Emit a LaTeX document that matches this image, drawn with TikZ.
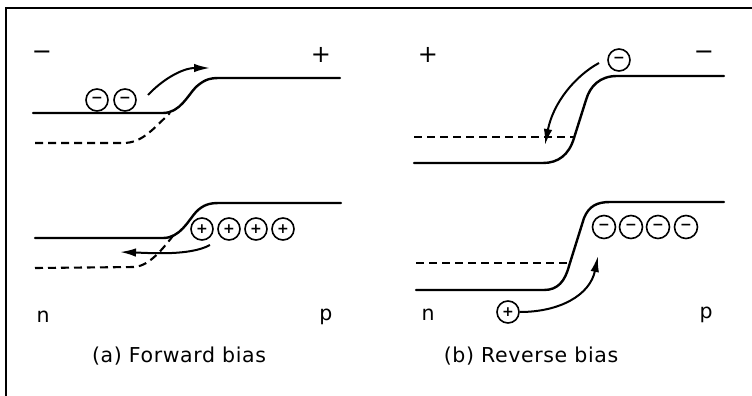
\documentclass[tikz,border=0pt]{standalone}
\usepackage{fontspec}
\setmainfont{DejaVu Sans}
\usetikzlibrary{arrows.meta}
\tikzset{
  band/.style={line width=2.4pt, line cap=round},
  dashband/.style={line width=2.1pt, dash pattern=on 8pt off 5pt},
  carrier/.style={circle, draw, line width=1.6pt, minimum size=22pt, inner sep=0pt, font=\fontsize{14}{14}\selectfont\bfseries},
  flow/.style={line width=2pt, -{Latex[length=16pt,width=8.5pt]}},
  lbl/.style={font=\fontsize{20.5}{20.5}\selectfont\addfontfeatures{LetterSpace=3}, inner sep=0pt},
  sgn/.style={font=\fontsize{24}{24}\selectfont, inner sep=0pt},
  frame/.style={line width=1.6pt}
}
\begin{document}
\begin{tikzpicture}[x=1pt,y=-1pt]
\useasboundingbox (0,0) rectangle (752,396);
% frame
\coordinate (f1) at (6,400);
\coordinate (f2) at (6,8);
\coordinate (f3) at (756,8);
\draw[frame] (f1) -- (f2) -- (f3);

% ===== (a) Forward bias, top =====
\node[sgn] (am) at (42,55) {−};
\node[sgn] (ap) at (321,55) {+};
\draw[band] (33,113) -- (163,113) .. controls (180,113) and (188,95) .. (196,87)
  .. controls (204,80) and (209,78) .. (219,78) -- (340,78);
\draw[dashband] (35,143) -- (123,143) .. controls (142,143) and (152,130) .. (170,113);
\node[carrier] (ae1) at (97,100) {−};
\node[carrier] (ae2) at (125,100) {−};
\coordinate (aas) at (148,95);
\coordinate (aae) at (210,68);
\draw[flow] (aas) .. controls (162,80) and (182,68) .. (aae);

% ===== (a) bottom =====
\draw[band] (35,238) -- (163,238) .. controls (180,238) and (188,221) .. (196,212)
  .. controls (203,205) and (209,203) .. (219,203) -- (341,203);
\draw[dashband] (35,268) -- (135,267) .. controls (150,265) and (162,250) .. (176,232);
\node[carrier] (ah1) at (202,229) {+};
\node[carrier] (ah2) at (229,229) {+};
\node[carrier] (ah3) at (256,229) {+};
\node[carrier] (ah4) at (283,229) {+};
\coordinate (abs) at (210,245);
\coordinate (abe) at (120,252);
\draw[flow] (abs) .. controls (190,256) and (150,253) .. (abe);
\node[lbl] (an) at (43,317) {n};
\node[lbl] (app) at (326,317) {p};
\node[lbl] (acap) at (179,356) {(a) Forward bias};

% ===== (b) Reverse bias, top =====
\node[sgn] (bp) at (428,55) {+};
\node[sgn] (bm) at (704,55) {−};
\draw[band] (724,76) -- (617,76) .. controls (600,76) and (590,86) .. (586,100)
  -- (574,138) .. controls (569,155) and (558,163) .. (543,163) -- (414,163);
\draw[dashband] (414,137) -- (574,137);
\node[carrier] (be) at (619,60) {−};
\coordinate (bas) at (599,63);
\coordinate (bae) at (545,145);
\draw[flow] (bas) .. controls (575,76) and (553,103) .. (bae);

% ===== (b) bottom =====
\draw[band] (416,290) -- (544,290) .. controls (558,290) and (565,281) .. (569,266)
  -- (584,218) .. controls (589,206) and (597,202) .. (610,202) -- (724,202);
\draw[dashband] (416,263) -- (569,263);
\node[carrier,minimum size=23pt] (be1) at (604,227) {−};
\node[carrier,minimum size=23pt] (be2) at (631,227) {−};
\node[carrier,minimum size=23pt] (be3) at (658,227) {−};
\node[carrier,minimum size=23pt] (be4) at (686,227) {−};
\node[carrier] (bh) at (508,312) {+};
\coordinate (bbe) at (598,256);
\draw[flow] (bh.east) .. controls (560,312) and (590,295) .. (bbe);
\node[lbl] (bn) at (428,315) {n};
\node[lbl] (bpp) at (706,315) {p};
\node[lbl] (bcap) at (531,356) {(b) Reverse bias};
\end{tikzpicture}
\end{document}
